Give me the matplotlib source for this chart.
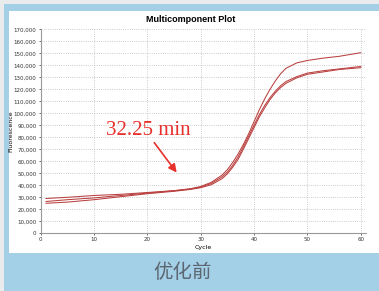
import numpy as np
import matplotlib
matplotlib.use('Agg')
import matplotlib.pyplot as plt
from matplotlib.patches import Rectangle
from matplotlib.ticker import FuncFormatter

# cycle positions and fluorescence readings for the three wells
cycles = [1, 5, 10, 15, 20, 25, 28, 30, 32, 34, 35, 36, 37, 38, 39, 40,
          41, 42, 43, 44, 45, 46, 48, 50, 53, 56, 60]
well_a = [29000, 30000, 31500, 32500, 34000, 35500, 37000, 39000, 42500, 48500,
          53000, 59000, 66000, 74000, 83000, 93000, 103000, 112000, 120000,
          127000, 133000, 137500, 142000, 144000, 146000, 147500, 150500]
well_b = [26500, 28000, 29500, 31500, 33500, 35500, 37000, 38500, 41500, 47000,
          51000, 56500, 63500, 72000, 81000, 90000, 99000, 106500, 113000,
          118500, 123000, 126500, 130500, 133500, 135500, 137000, 139000]
well_c = [25000, 26000, 28000, 30500, 33000, 35000, 36500, 38000, 40500, 45500,
          49500, 55000, 61500, 70000, 79000, 88000, 97000, 104500, 111500,
          117000, 121500, 125000, 129500, 132500, 134500, 136500, 138000]

xticks = [0, 10, 20, 30, 40, 50, 60]
yticks = list(range(0, 170001, 10000))

W, H = 379, 291
fig = plt.figure(figsize=(W / 100, H / 100), dpi=100)
fig.patch.set_facecolor('#e9ebec')

# blue frame and white card
fig.patches.append(Rectangle((4 / W, 0), 1, 1 - 4 / H, transform=fig.transFigure,
                             facecolor='#a3cfe7', edgecolor='none', zorder=-2))
fig.patches.append(Rectangle((9 / W, 1 - 253 / H), 1, (253 - 11) / H,
                             transform=fig.transFigure,
                             facecolor='white', edgecolor='none', zorder=-1))

ax = fig.add_axes([40.7 / W, 1 - 233.3 / H, (366 - 40.7) / W, (233.3 - 29.3) / H])
ax.set_zorder(1)
ax.set_facecolor('white')

for vals in (well_a, well_b, well_c):
    ax.plot(cycles, vals, color='#b9403f', lw=0.75)

ax.set_xlim(0, 61)
ax.set_ylim(0, 170000)
ax.set_xticks(xticks)
ax.set_yticks(yticks)
ax.yaxis.set_major_formatter(FuncFormatter(lambda v, p: f'{int(v):,}'))
ax.tick_params(labelsize=4, length=1.5, width=0.5, colors='#333333', pad=1.5)
ax.grid(True, linestyle=':', color='#bbbbbb', lw=0.6)
for s in ('top', 'right'):
    ax.spines[s].set_visible(False)
for s in ('left', 'bottom'):
    ax.spines[s].set_color('#999999')
    ax.spines[s].set_linewidth(0.8)

fig.text(191 / W, 1 - 20 / H, 'Multicomponent Plot', fontsize=6.5,
         fontweight='bold', family='Liberation Sans', ha='center', va='center')
ax.set_xlabel('Cycle', fontsize=4.5, labelpad=2)
ax.set_ylabel('Fluorescence', fontsize=4.5)
ax.yaxis.set_label_coords(-0.085, 0.5)

ax.text(20.2, 86000, '32.25 min', fontsize=15, color='#e8302c',
        family='Liberation Serif', ha='center', va='center')
ax.annotate('', xy=(25.5, 50600), xytext=(21.3, 75500),
            arrowprops=dict(arrowstyle='-|>', color='#e8302c', lw=1.2,
                            mutation_scale=12, shrinkA=0, shrinkB=0))

fig.text(183 / W, 1 - 273 / H, '优化前', fontsize=14, color='#5b6670',
         ha='center', va='center', family=['Noto Sans CJK SC', 'DejaVu Sans'])

fig.savefig('out.png', dpi=100)
